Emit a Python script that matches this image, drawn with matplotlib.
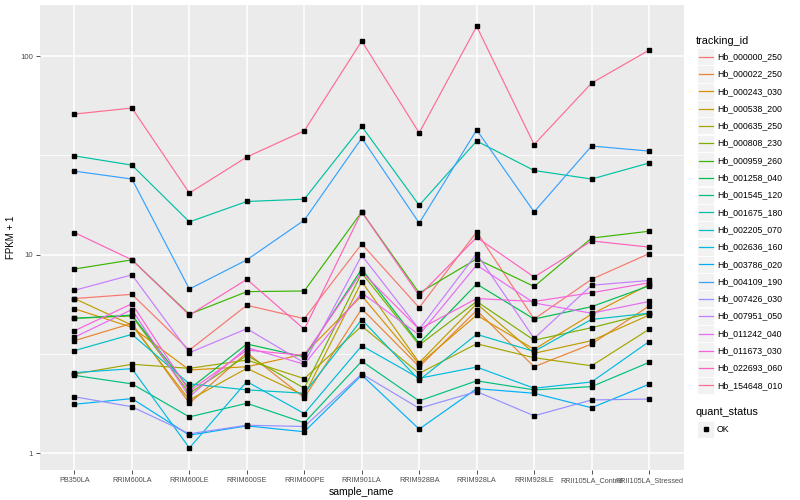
import numpy as np
import matplotlib
matplotlib.use('Agg')
import matplotlib.pyplot as plt
from matplotlib.lines import Line2D
from matplotlib.patches import Rectangle

plt.rcParams['font.family'] = ['Liberation Sans', 'DejaVu Sans']

samples = ['PB350LA', 'RRIM600LA', 'RRIM600LE', 'RRIM600SE', 'RRIM600PE',
           'RRIM901LA', 'RRIM928BA', 'RRIM928LA', 'RRIM928LE',
           'RRII105LA_Control', 'RRII105LA_Stressed']

tracking_ids = ['Hb_000000_250', 'Hb_000022_250', 'Hb_000243_030', 'Hb_000538_200',
                'Hb_000635_250', 'Hb_000808_230', 'Hb_000959_260', 'Hb_001258_040',
                'Hb_001545_120', 'Hb_001675_180', 'Hb_002205_070', 'Hb_002636_160',
                'Hb_003786_020', 'Hb_004109_190', 'Hb_007426_030', 'Hb_007951_050',
                'Hb_011242_040', 'Hb_011673_030', 'Hb_022693_060', 'Hb_154648_010']

# ggplot default hue palette for 20 levels
colors = ['#F8766D', '#EA8331', '#D89000', '#C09B00', '#A3A500', '#7CAE00',
          '#39B600', '#00BB4E', '#00BF7D', '#00C1A3', '#00BFC4', '#00BAE0',
          '#00B0F6', '#35A2FF', '#9590FF', '#C77CFF', '#E76BF3', '#FA62DB',
          '#FF62BC', '#FF6C91']

# FPKM + 1, one list per gene, in sample order
hb_000000_250 = [6.0, 6.3, 3.3, 5.55, 4.75, 11.3, 5.4, 13.0, 4.73, 7.5, 10.1]
hb_000022_250 = [3.68, 4.5, 1.78, 3.2, 1.9, 5.33, 2.72, 5.23, 2.72, 3.54, 5.5]
hb_000243_030 = [5.33, 4.3, 2.62, 2.72, 3.15, 6.2, 2.8, 4.95, 3.33, 5.0, 7.05]
hb_000538_200 = [6.0, 4.41, 1.85, 2.67, 1.95, 7.3, 2.85, 5.65, 3.18, 3.68, 4.95]
hb_000635_250 = [2.50, 2.8, 2.67, 2.94, 2.37, 4.36, 2.52, 3.55, 3.02, 2.75, 4.2]
hb_000808_230 = [4.77, 4.9, 2.0, 3.1, 2.12, 8.07, 3.5, 5.8, 3.7, 4.28, 5.06]
hb_000959_260 = [8.45, 9.4, 5.0, 6.5, 6.55, 16.4, 6.4, 9.5, 6.9, 12.1, 13.1]
hb_001258_040 = [4.77, 4.95, 2.1, 3.54, 3.05, 8.45, 3.57, 7.1, 4.73, 5.46, 6.95]
hb_001545_120 = [2.46, 2.23, 1.52, 1.78, 1.42, 2.9, 1.83, 2.31, 2.08, 2.16, 2.86]
hb_001675_180 = [31.4, 28.2, 14.6, 18.5, 19.0, 44.2, 17.7, 37.3, 26.5, 24.0, 28.9]
hb_002205_070 = [3.28, 3.96, 2.23, 2.08, 2.0, 4.7, 2.33, 3.96, 3.25, 4.71, 5.06]
hb_002636_160 = [2.54, 2.66, 1.06, 2.29, 1.58, 3.47, 2.38, 2.71, 2.12, 2.28, 3.64]
hb_003786_020 = [1.76, 1.88, 1.23, 1.37, 1.28, 2.47, 1.32, 2.11, 2.0, 1.69, 2.22]
hb_004109_190 = [26.3, 24.0, 6.7, 9.4, 14.9, 38.6, 14.4, 42.4, 16.4, 35.2, 33.2]
hb_007426_030 = [1.92, 1.71, 1.25, 1.38, 1.36, 2.5, 1.68, 2.04, 1.54, 1.85, 1.87]
hb_007951_050 = [6.6, 7.9, 3.2, 4.23, 2.85, 9.9, 4.2, 10.1, 3.78, 7.0, 7.4]
hb_011242_040 = [3.83, 5.28, 1.92, 3.4, 2.8, 6.4, 3.94, 8.85, 5.7, 5.06, 5.8]
hb_011673_030 = [4.13, 5.65, 2.05, 3.3, 3.1, 8.17, 4.2, 6.0, 5.8, 6.42, 7.2]
hb_022693_060 = [12.9, 9.4, 4.95, 7.5, 4.2, 16.4, 6.2, 12.2, 7.7, 11.7, 10.9]
hb_154648_010 = [51, 54.7, 20.4, 31, 42, 119, 41, 141, 35.8, 73, 107]

series = [hb_000000_250, hb_000022_250, hb_000243_030, hb_000538_200, hb_000635_250,
          hb_000808_230, hb_000959_260, hb_001258_040, hb_001545_120, hb_001675_180,
          hb_002205_070, hb_002636_160, hb_003786_020, hb_004109_190, hb_007426_030,
          hb_007951_050, hb_011242_040, hb_011673_030, hb_022693_060, hb_154648_010]

W, H = 800, 500
fig = plt.figure(figsize=(W / 100, H / 100), dpi=100)
ax = fig.add_axes([40 / W, 1 - 470 / H, 643.5 / W, 465 / H])
ax.set_facecolor('#EBEBEB')

x = np.arange(len(samples))
for vals, c in zip(series, colors):
    ax.plot(x, vals, color=c, lw=0.85, zorder=2)
for vals in series:
    ax.plot(x, vals, ls='none', marker='s', ms=2.2, color='black', zorder=3)

ax.set_yscale('log')
ax.set_ylim(10 ** -0.0856, 10 ** 2.257)
ax.set_xlim(-0.6, len(samples) - 0.4)
ax.set_yticks([1, 10, 100])
ax.set_yticklabels(['1', '10', '100'])
ax.set_yticks([10 ** 0.5, 10 ** 1.5], minor=True)
ax.set_yticklabels([], minor=True)
ax.set_xticks(x)
ax.set_xticklabels(samples)

ax.grid(which='major', color='white', lw=1.1, zorder=0)
ax.grid(which='minor', axis='y', color='white', lw=0.55, zorder=0)
ax.set_axisbelow(True)
for s in ax.spines.values():
    s.set_visible(False)
ax.tick_params(which='major', length=3, width=0.6, color='#333333',
               labelcolor='#4D4D4D', pad=2)
ax.tick_params(axis='x', labelsize=5.2)
ax.tick_params(axis='y', labelsize=5.6)
ax.tick_params(which='minor', length=0)

ax.set_xlabel('sample_name', fontsize=7.5, labelpad=2)
ax.set_ylabel('FPKM + 1', fontsize=7, labelpad=3)


def px(xp, yp):
    return xp / W, 1 - yp / H


# legend: tracking_id
fig.text(*px(696, 40.7), 'tracking_id', fontsize=7.8, va='center', ha='left')
y0, step = 56.7, 17.3
for i, (name, c) in enumerate(zip(tracking_ids, colors)):
    yc = y0 + i * step
    fig.add_artist(Rectangle(px(697, yc + 8.5), 17 / W, 17 / H, transform=fig.transFigure,
                             facecolor='#F2F2F2', edgecolor='white', lw=0.6))
    fig.add_artist(Line2D([698.5 / W, 712.5 / W], [1 - yc / H] * 2, transform=fig.transFigure,
                          color=c, lw=0.9))
    fig.text(*px(717, yc), name, fontsize=6.3, va='center', ha='left')

# legend: quant_status
fig.text(*px(696, 412), 'quant_status', fontsize=7.8, va='center', ha='left')
fig.add_artist(Rectangle(px(697, 429 + 8.5), 17 / W, 17 / H, transform=fig.transFigure,
                         facecolor='#F2F2F2', edgecolor='white', lw=0.6))
fig.add_artist(Line2D([705.5 / W], [1 - 429 / H], transform=fig.transFigure,
                      ls='none', marker='s', ms=2.2, color='black'))
fig.text(*px(717, 429), 'OK', fontsize=6.3, va='center', ha='left')

fig.savefig('out.png', dpi=100)
